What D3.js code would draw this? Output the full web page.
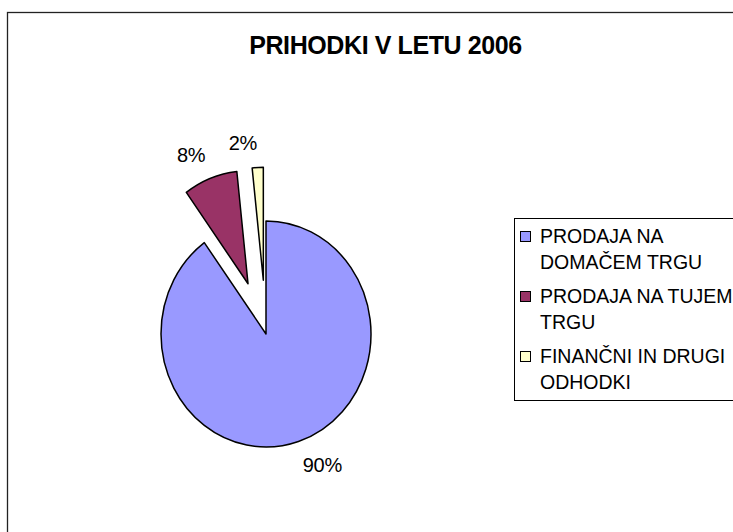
<!DOCTYPE html>
<html>
<head>
<meta charset="utf-8">
<script src="https://cdn.jsdelivr.net/npm/d3@7"></script>
<style>
  body { margin: 0; background: #fff; }
  text { font-family: "Liberation Sans", Arial, sans-serif; }
</style>
</head>
<body>
<div id="pieChart"></div>
<script>
// chart data
var categories = ["PRODAJA NA DOMAČEM TRGU", "PRODAJA NA TUJEM TRGU", "FINANČNI IN DRUGI ODHODKI"];
var legendLines = [["PRODAJA NA", "DOMAČEM TRGU"], ["PRODAJA NA TUJEM", "TRGU"], ["FINANČNI IN DRUGI", "ODHODKI"]];
var values = [90, 8.3, 1.7];
var exploded = ["PRODAJA NA TUJEM TRGU", "FINANČNI IN DRUGI ODHODKI"];
var colors = ["#9999FF", "#993366", "#FFFFCC"];
var title = "PRIHODKI V LETU 2006";

var width = 733, height = 532;
var radius = 105, squash = 1.076, explodeDist = 50, labelDist = 119;
var cx = 266, cy = 334;

var svg = d3.select("#pieChart")
  .append("svg")
  .attr("width", width)
  .attr("height", height);

// outer chart border (right and bottom run off the page)
svg.append("rect")
  .attr("x", 7.5).attr("y", 12.5)
  .attr("width", 760).attr("height", 560)
  .attr("fill", "#fff")
  .attr("stroke", "#222")
  .attr("stroke-width", 1.3);

svg.append("text")
  .attr("x", 385.5).attr("y", 54)
  .attr("text-anchor", "middle")
  .attr("font-size", 25)
  .attr("font-weight", "bold")
  .attr("letter-spacing", -0.4)
  .text(title);

var color = d3.scaleOrdinal().domain(categories).range(colors);

var pie = d3.pie().sort(null).value(function(d) { return d.value; });
var arcs = pie(categories.map(function(c, i) { return {name: c, value: values[i]}; }));
var arc = d3.arc().innerRadius(0).outerRadius(radius);

function midAngle(d) { return (d.startAngle + d.endAngle) / 2; }

function offset(d) {
  var a = midAngle(d);
  var k = exploded.indexOf(d.data.name) >= 0 ? explodeDist : 0;
  return [Math.sin(a) * k, -Math.cos(a) * k];
}

// pie group, slightly taller than wide like the original
var g = svg.append("g")
  .attr("transform", "translate(" + cx + "," + cy + ") scale(1," + squash + ")");

g.selectAll("path")
  .data(arcs)
  .enter()
  .append("path")
  .attr("transform", function(d) { var o = offset(d); return "translate(" + o[0] + "," + o[1] + ")"; })
  .attr("d", arc)
  .attr("fill", function(d) { return color(d.data.name); })
  .attr("stroke", "#000")
  .attr("stroke-width", 1.5)
  .attr("stroke-linejoin", "round")
  .attr("vector-effect", "non-scaling-stroke");

// percentage labels: box corner sits just outside the slice edge
var total = d3.sum(values);
var labels = svg.selectAll("text.pct")
  .data(arcs)
  .enter()
  .append("text")
  .attr("class", "pct")
  .attr("text-anchor", "middle")
  .attr("font-size", 20)
  .attr("letter-spacing", -0.3)
  .text(function(d) { return Math.round(d.data.value / total * 100) + "%"; });

labels.each(function(d) {
  var a = midAngle(d), o = offset(d);
  var w = this.getComputedTextLength(), h = 18;
  var px = cx + o[0] + Math.sin(a) * labelDist;
  var py = cy + (o[1] - Math.cos(a) * labelDist) * squash;
  var sx = Math.sin(a) >= 0 ? 1 : -1, sy = -Math.cos(a) >= 0 ? 1 : -1;
  d3.select(this)
    .attr("x", px + sx * w / 2)
    .attr("y", py + sy * h / 2 + 7);
});

// legend
var legend = svg.append("g");
legend.append("rect")
  .attr("x", 514.5).attr("y", 218.5)
  .attr("width", 260).attr("height", 182)
  .attr("fill", "#fff")
  .attr("stroke", "#000")
  .attr("stroke-width", 1);

var item = legend.selectAll("g.item")
  .data(categories)
  .enter()
  .append("g")
  .attr("class", "item")
  .attr("transform", function(d, i) { return "translate(520," + (236 + i * 60) + ")"; });

item.append("rect")
  .attr("x", 0.5).attr("y", -4.5)
  .attr("width", 10).attr("height", 10)
  .attr("fill", function(d) { return color(d); })
  .attr("stroke", "#000")
  .attr("stroke-width", 1);

item.append("text")
  .attr("x", 20)
  .attr("y", 7)
  .attr("font-size", 19.5)
  .selectAll("tspan")
  .data(function(d, i) { return legendLines[i]; })
  .enter()
  .append("tspan")
  .attr("x", 20)
  .attr("dy", function(d, j) { return j === 0 ? 0 : 26; })
  .text(function(d) { return d; });
</script>
</body>
</html>
